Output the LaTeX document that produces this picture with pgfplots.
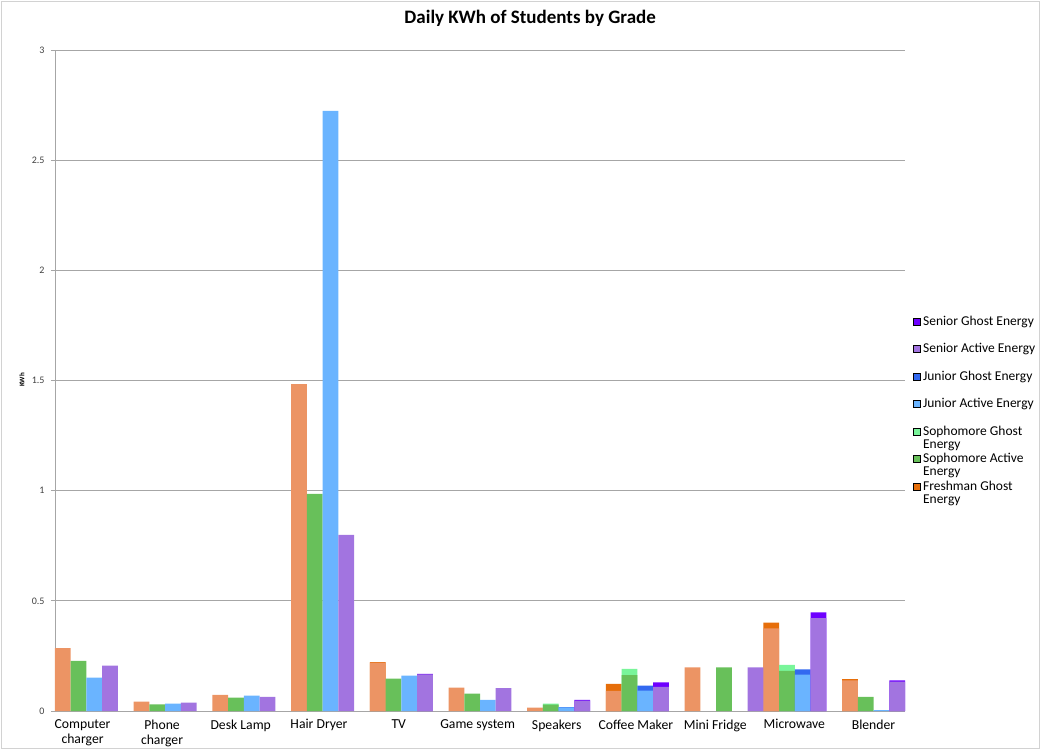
\documentclass[border=0pt]{standalone}
\usepackage{fontspec}
\setmainfont{Carlito}
\usepackage{pgfplots}
\pgfplotsset{compat=1.18}
\definecolor{frA}{HTML}{EC9464}
\definecolor{frG}{HTML}{E66E0A}
\definecolor{soA}{HTML}{68C05A}
\definecolor{soG}{HTML}{79F59A}
\definecolor{juA}{HTML}{6AB4FF}
\definecolor{juG}{HTML}{3369F0}
\definecolor{seA}{HTML}{A274E0}
\definecolor{seG}{HTML}{6E00FF}
\definecolor{gridc}{HTML}{A6A6A6}
\newcommand{\LE}[1]{\raisebox{0pt}[9pt][3pt]{\parbox[t]{125pt}{\raggedright #1}}}
\pgfplotsset{bars/.style={ybar, bar width=1, bar shift=0pt, draw=none, forget plot}}
\begin{document}
\begin{tikzpicture}[x=1pt,y=1pt]
\useasboundingbox (0,0) rectangle (1041,750);
\draw[gray!35, line width=0.8pt] (1.5,1.5) rectangle (1039.5,748.5);
\begin{axis}[
  at={(55pt,39pt)}, anchor=origin, scale only axis,
  width=850pt, height=661pt,
  xmin=0, xmax=54, ymin=0, ymax=3,
  ytick={0,0.5,1,1.5,2,2.5,3},
  yticklabels={0,0.5,1,1.5,2,2.5,3},
  ymajorgrids, grid style={gridc, line width=0.8pt},
  axis lines*=left,
  axis line style={gridc, line width=0.8pt},
  tick align=outside, major tick length=4pt,
  ytick style={gridc, line width=0.8pt},
  xtick style={draw=none},
  yticklabel style={font=\fontsize{10}{11}\selectfont, text=black!75, xshift=-3pt},
  xtick={1.75,6.8,11.8,16.77,21.84,26.85,31.87,36.9,41.95,46.97,52.0},
  xticklabels={{Computer\\charger},{Phone\\charger},{Desk Lamp},{Hair Dryer},{TV},{Game system},{Speakers},{Coffee Maker},{Mini Fridge},{Microwave},{Blender}},
  xticklabel style={align=center, font=\fontsize{13.7}{15}\selectfont, yshift=-1pt},
  ylabel={KWh},
  ylabel style={at={(axis description cs:-0.0388,0.5008)}, anchor=center, font=\fontsize{7}{8}\selectfont\bfseries},
  title={Daily KWh of Students by Grade},
  title style={at={(axis description cs:0.559,1)}, anchor=center, yshift=26pt, font=\fontsize{19}{22}\selectfont\bfseries},
  legend style={at={(axis description cs:1.0094,0.599)}, anchor=north west, draw=none, fill=none,
    font=\fontsize{13.5}{13}\selectfont, row sep=15pt, inner sep=0pt, nodes={inner xsep=2.5pt, inner ysep=1pt}},
  legend cell align=left,
  legend image code/.code={\fill[#1] (0pt,-3.5pt) rectangle (7pt,3.5pt);},
]
\addlegendimage{fill=seG}\addlegendentry{\LE{Senior Ghost Energy}}
\addlegendimage{fill=seA}\addlegendentry{\LE{Senior Active Energy}}
\addlegendimage{fill=juG}\addlegendentry{\LE{Junior Ghost Energy}}
\addlegendimage{fill=juA}\addlegendentry{\LE{Junior Active Energy}}
\addlegendimage{fill=soG}\addlegendentry{\LE{Sophomore Ghost\newline Energy}}
\addlegendimage{fill=soA}\addlegendentry{\LE{Sophomore Active\newline Energy}}
\addlegendimage{fill=frG}\addlegendentry{\LE{Freshman Ghost\newline Energy}}
% Freshman (ghost totals, then active)
\addplot[bars, fill=frG] coordinates {(20.5,0.222) (35.5,0.123) (45.5,0.401) (50.5,0.145)};
\addplot[bars, fill=frA] coordinates {(0.5,0.285) (5.5,0.042) (10.5,0.073) (15.5,1.484) (20.5,0.219) (25.5,0.106) (30.5,0.015) (35.5,0.091) (40.5,0.198) (45.5,0.375) (50.5,0.139)};
% Sophomore
\addplot[bars, fill=soG] coordinates {(31.5,0.033) (36.5,0.191) (46.5,0.209)};
\addplot[bars, fill=soA] coordinates {(1.5,0.227) (6.5,0.030) (11.5,0.061) (16.5,0.985) (21.5,0.147) (26.5,0.079) (31.5,0.029) (36.5,0.163) (42.5,0.198) (46.5,0.182) (51.5,0.064)};
% Junior
\addplot[bars, fill=juG] coordinates {(32.5,0.018) (37.5,0.115) (47.5,0.189)};
\addplot[bars, fill=juA] coordinates {(2.5,0.151) (7.5,0.033) (12.5,0.070) (17.5,2.724) (22.5,0.160) (27.5,0.051) (32.5,0.016) (37.5,0.092) (47.5,0.165) (52.5,0.004)};
% Senior
\addplot[bars, fill=seG] coordinates {(23.5,0.169) (33.5,0.051) (38.5,0.130) (48.5,0.448) (53.5,0.139)};
\addplot[bars, fill=seA] coordinates {(3.5,0.206) (8.5,0.038) (13.5,0.064) (18.5,0.799) (23.5,0.166) (28.5,0.104) (33.5,0.047) (38.5,0.110) (44.5,0.198) (48.5,0.421) (53.5,0.133)};
\end{axis}
\end{tikzpicture}
\end{document}
